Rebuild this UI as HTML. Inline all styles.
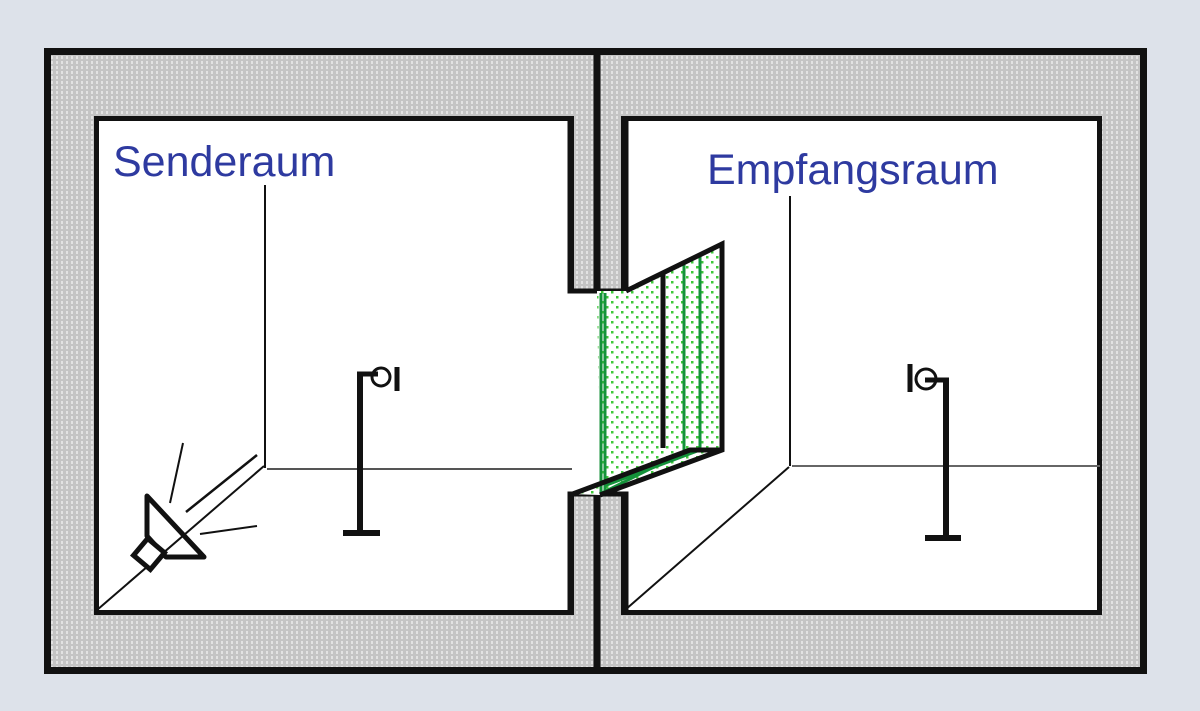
<!DOCTYPE html>
<html><head><meta charset="utf-8"><style>
html,body{margin:0;padding:0;background:#dde2ea;}
svg{display:block}
</style></head><body>
<svg width="1200" height="711" viewBox="0 0 1200 711" xmlns="http://www.w3.org/2000/svg">
<defs>
<pattern id="g" width="5" height="5" patternUnits="userSpaceOnUse">
<rect width="5" height="5" fill="#c4c4c4"/>
<rect x="1" y="1" width="2" height="3" fill="#e2e2e2"/>
</pattern>
<pattern id="gr" width="10" height="10" patternUnits="userSpaceOnUse">
<rect width="10" height="10" fill="#fff"/>
<rect x="1" y="1" width="2.5" height="2.5" fill="#3fc83a"/>
<rect x="6" y="6" width="2.5" height="2.5" fill="#3fc83a"/>
</pattern>
</defs>
<rect width="1200" height="711" fill="#dde2ea"/>
<rect x="47.5" y="51.5" width="1096" height="619" fill="url(#g)" stroke="#111" stroke-width="7"/>
<rect x="96.5" y="118.5" width="475" height="494" fill="#fff" stroke="#111" stroke-width="5"/>
<rect x="623.5" y="118.5" width="476" height="494" fill="#fff" stroke="#111" stroke-width="5"/>
<rect x="568" y="290" width="58" height="205" fill="#fff"/>
<polyline points="570,116 570,291 626,291 626,116" fill="none" stroke="#111" stroke-width="5"/>
<polyline points="570,615 570,494 626,494 626,615" fill="none" stroke="#111" stroke-width="5"/>
<line x1="597" y1="50" x2="597" y2="291" stroke="#111" stroke-width="7"/>
<line x1="597" y1="494" x2="597" y2="672" stroke="#111" stroke-width="7"/>
<g stroke="#111" stroke-width="2" fill="none">
<line x1="265" y1="185" x2="265" y2="468"/>
<line x1="267" y1="469" x2="572" y2="469" stroke="#555"/>
<line x1="264" y1="466" x2="97" y2="610"/>
<line x1="790" y1="196" x2="790" y2="466"/>
<line x1="792" y1="466" x2="1100" y2="466" stroke="#666"/>
<line x1="789" y1="467" x2="625" y2="610"/>
</g>
<polygon points="597,291 626,291 722,244 722,450 690,450 600,495" fill="url(#gr)"/>
<polygon points="570,494 690,450 722,450 600,495" fill="url(#gr)"/>
<g stroke="#14923a" stroke-width="3" fill="none">
<line x1="601" y1="293" x2="601" y2="494"/>
<line x1="605" y1="293" x2="605" y2="492"/>
<line x1="684" y1="262" x2="684" y2="452"/>
<line x1="700" y1="256" x2="700" y2="450"/>
<line x1="602" y1="493" x2="684" y2="452"/>
<line x1="604" y1="486" x2="700" y2="450"/>
</g>
<g stroke="#111" stroke-width="5" fill="none">
<polyline points="626,291 722,244 722,450 600,495"/>
<line x1="663" y1="272" x2="663" y2="448"/>
<polyline points="570,495 690,450 722,450"/>
</g>
<g stroke="#111" fill="none">
<line x1="360" y1="372" x2="360" y2="532" stroke-width="6"/>
<line x1="357" y1="374" x2="378" y2="374" stroke-width="5"/>
<circle cx="381" cy="377" r="9" stroke-width="3"/>
<line x1="397" y1="367" x2="397" y2="391" stroke-width="5"/>
<line x1="343" y1="533" x2="380" y2="533" stroke-width="6"/>
</g>
<g stroke="#111" fill="none">
<line x1="946" y1="380" x2="946" y2="537" stroke-width="6"/>
<line x1="925" y1="380" x2="949" y2="380" stroke-width="5"/>
<circle cx="926" cy="379" r="10" stroke-width="3"/>
<line x1="910" y1="364" x2="910" y2="392" stroke-width="5"/>
<line x1="925" y1="538" x2="961" y2="538" stroke-width="6"/>
</g>
<g stroke="#111" fill="none">
<polygon points="147,496 204,557 166,557 147,536" stroke-width="5" stroke-linejoin="round"/>
<rect x="138" y="543" width="22" height="22" transform="rotate(40 149 554)" stroke-width="5" fill="#fff"/>
<line x1="183" y1="443" x2="170" y2="503" stroke-width="2"/>
<line x1="186" y1="512" x2="257" y2="455" stroke-width="2.5"/>
<line x1="200" y1="534" x2="257" y2="526" stroke-width="2"/>
</g>
<text x="113" y="176" font-family="Liberation Sans, sans-serif" font-size="43" fill="#2e3aa0">Senderaum</text>
<text x="707" y="184" font-family="Liberation Sans, sans-serif" font-size="43" fill="#2e3aa0">Empfangsraum</text>
</svg>
</body></html>
